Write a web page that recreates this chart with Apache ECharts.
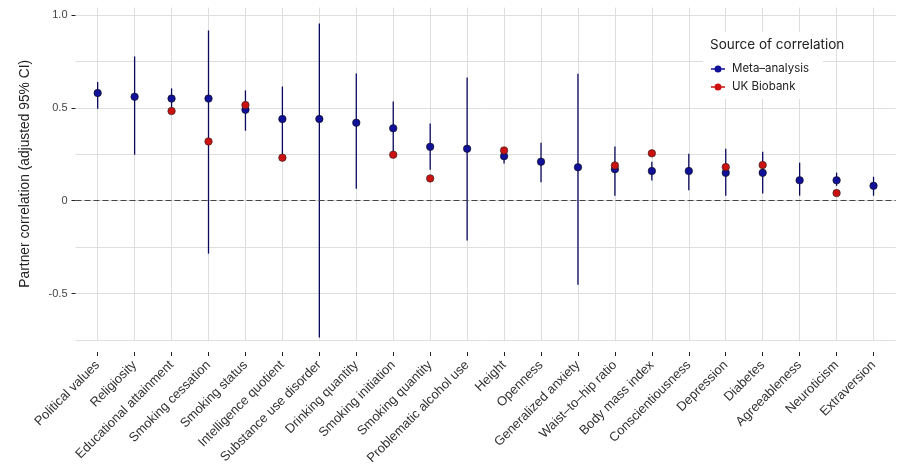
<!DOCTYPE html>
<html>
<head>
<meta charset="utf-8">
<script src="https://cdn.jsdelivr.net/npm/echarts@6/dist/echarts.min.js"></script>
<style>
html,body{margin:0;padding:0;background:#fff;}
#chart{width:908px;height:475px;}
</style>
</head>
<body>
<div id="chart"></div>
<script>
var categories = ["Political values","Religiosity","Educational attainment","Smoking cessation","Smoking status","Intelligence quotient","Substance use disorder","Drinking quantity","Smoking initiation","Smoking quantity","Problematic alcohol use","Height","Openness","Generalized anxiety","Waist–to–hip ratio","Body mass index","Conscientiousness","Depression","Diabetes","Agreeableness","Neuroticism","Extraversion"];
var metaValues = [0.58,0.56,0.55,0.55,0.49,0.44,0.44,0.42,0.39,0.29,0.28,0.24,0.21,0.18,0.17,0.16,0.16,0.15,0.15,0.11,0.11,0.08];
var metaLower  = [0.495,0.248,0.50,-0.285,0.377,0.24,-0.736,0.065,0.25,0.167,-0.214,0.201,0.099,-0.452,0.027,0.109,0.056,0.027,0.039,0.027,0.08,0.027];
var metaUpper  = [0.64,0.777,0.605,0.917,0.594,0.615,0.955,0.685,0.535,0.416,0.664,0.27,0.312,0.684,0.292,0.21,0.253,0.28,0.264,0.205,0.151,0.129];
var ukValues   = [null,null,0.483,0.319,0.515,0.232,null,null,0.248,0.12,null,0.271,null,null,0.19,0.255,null,0.181,0.192,null,0.041,null];
var yTickValues = [-0.5,0,0.5,1];
var yTickLabels = ["-0.5","0","0.5","1.0"];
var seriesNames = ["Meta–analysis","UK Biobank"];
var legendTitle = "Source of correlation";
var yAxisTitle = "Partner correlation (adjusted 95% CI)";

var idx = categories.map(function(c,i){return i;});
var errData = idx.map(function(i){return [i, metaLower[i], metaUpper[i]];});
var metaData = idx.map(function(i){return [i, metaValues[i]];});
var ukData = idx.filter(function(i){return ukValues[i]!==null;}).map(function(i){return [i, ukValues[i]];});

var AX = '"Liberation Sans", Arial, sans-serif';
var LG = 'Inter, "Liberation Sans", sans-serif';
var iconPath = 'path://M0,3.3H14V4.7H0Z M3.5,4A3.5,3.5 0 1 1 10.5,4A3.5,3.5 0 1 1 3.5,4Z';

var chart = echarts.init(document.getElementById('chart'), null, {renderer:'canvas'});
chart.setOption({
  animation:false,
  backgroundColor:'#fff',
  title:{
    text:legendTitle, left:710, top:38, padding:0, z:20,
    textStyle:{fontFamily:LG, fontSize:13.5, fontWeight:'normal', color:'#222'}
  },
  legend:{
    orient:'vertical', left:703, top:32, padding:[31,14,6,8],
    backgroundColor:'#fff', itemWidth:14, itemHeight:7, itemGap:6, z:10,
    textStyle:{fontFamily:LG, fontSize:11.5, color:'#222', padding:[0,0,0,2]},
    itemStyle:{borderWidth:0},
    data:[
      {name:seriesNames[0], icon:iconPath, itemStyle:{color:'#101098'}},
      {name:seriesNames[1], icon:iconPath, itemStyle:{color:'#cc1111'}}
    ]
  },
  grid:{left:75.5, right:12.3, top:7.6, bottom:135, containLabel:false},
  xAxis:{
    type:'value', min:-0.6, max:21.6, offset:12,
    axisLine:{show:false, onZero:false},
    axisTick:{show:true, length:4, customValues:idx, lineStyle:{color:'#222', width:1}},
    axisLabel:{customValues:idx, rotate:45, margin:11, fontFamily:AX, fontSize:13, color:'#333',
      formatter:function(v){return categories[Math.round(v)];}},
    splitLine:{show:true, lineStyle:{color:'#dedede', width:1}}
  },
  yAxis:[{
    type:'value', min:-0.75, max:1.04,
    name:yAxisTitle, nameLocation:'middle', nameGap:43,
    nameTextStyle:{fontFamily:AX, fontSize:13.8, color:'#222'},
    axisLine:{show:false, onZero:false},
    axisTick:{show:true, length:4, customValues:yTickValues, lineStyle:{color:'#222', width:1}},
    axisLabel:{customValues:yTickValues, margin:8, fontFamily:AX, fontSize:11, color:'#444',
      formatter:function(v){var k=yTickValues.indexOf(v);return k>=0?yTickLabels[k]:'';}},
    splitLine:{show:false}
  },{
    type:'value', min:-0.75, max:1.04, interval:0.25, position:'left',
    axisLine:{show:false, onZero:false}, axisTick:{show:false}, axisLabel:{show:false},
    splitLine:{show:true, showMaxLine:false, lineStyle:{color:'#dedede', width:1}}
  }],
  series:[{
    type:'custom', name:'ci', yAxisIndex:0, data:errData,
    encode:{x:0, y:[1,2]},
    renderItem:function(params, api){
      var x = api.value(0);
      var p1 = api.coord([x, api.value(1)]);
      var p2 = api.coord([x, api.value(2)]);
      return {type:'line', shape:{x1:p1[0], y1:p1[1], x2:p2[0], y2:p2[1]},
        style:{stroke:'#0a0a5c', lineWidth:1.3}};
    },
    markLine:{silent:true, symbol:['none','none'], label:{show:false},
      lineStyle:{color:'#444', width:1, type:[6,3]},
      data:[{yAxis:0}]}
  },{
    type:'scatter', name:seriesNames[0], data:metaData, symbolSize:7.5,
    itemStyle:{color:'#101098', borderColor:'#111', borderWidth:0.6, opacity:1}
  },{
    type:'scatter', name:seriesNames[1], data:ukData, symbolSize:7.5,
    itemStyle:{color:'#cc1111', borderColor:'#222', borderWidth:0.6, opacity:1}
  }]
});
</script>
</body>
</html>
